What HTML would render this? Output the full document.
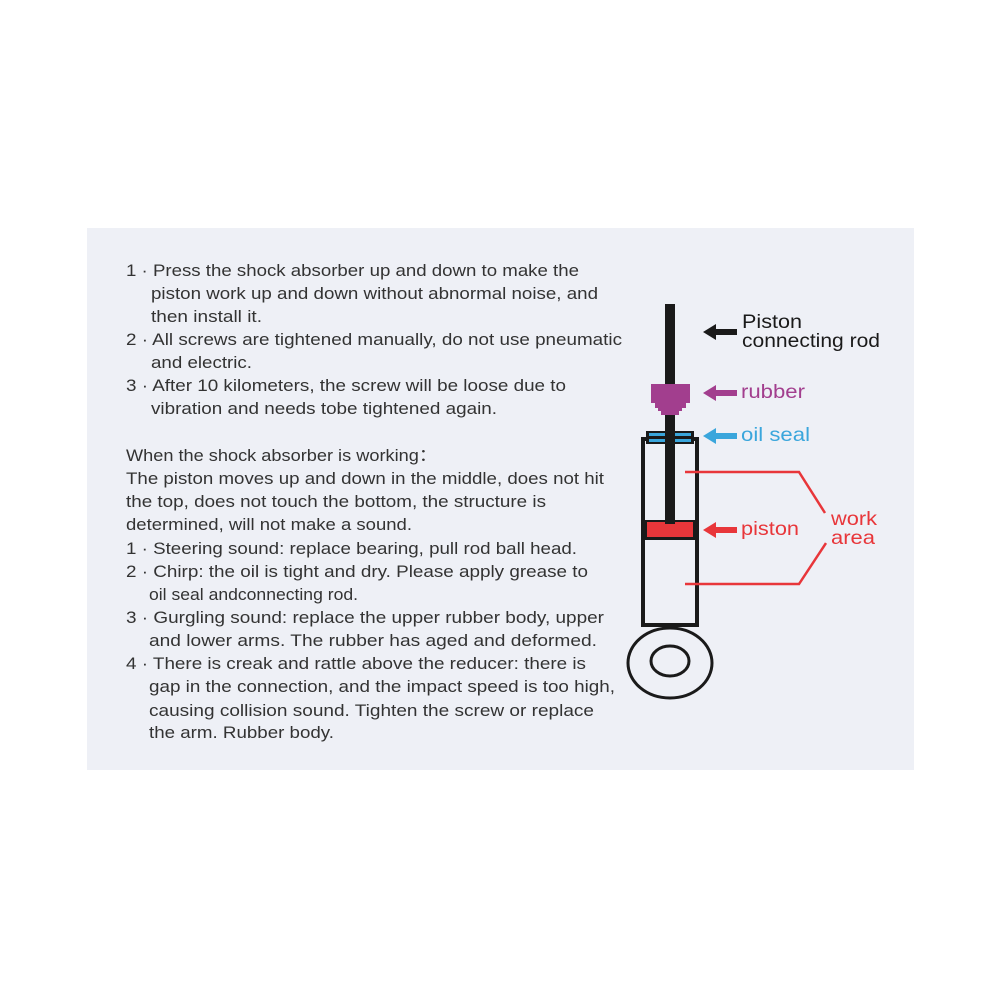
<!DOCTYPE html>
<html><head><meta charset="utf-8"><style>
html,body{margin:0;padding:0;background:#fff;}
svg{display:block}
text{font-family:"Liberation Sans",sans-serif;}
</style></head><body>
<svg width="1000" height="1000" viewBox="0 0 1000 1000" xmlns="http://www.w3.org/2000/svg">
<rect x="0" y="0" width="1000" height="1000" fill="#ffffff"/>
<rect x="87" y="228" width="827" height="542" fill="#eef0f6"/>
<g font-size="17" fill="#333333">
<text x="126" y="276" textLength="453" lengthAdjust="spacingAndGlyphs">1 · Press the shock absorber up and down to make the</text>
<text x="151" y="299" textLength="447" lengthAdjust="spacingAndGlyphs">piston work up and down without abnormal noise, and</text>
<text x="151" y="322" textLength="111" lengthAdjust="spacingAndGlyphs">then install it.</text>
<text x="126" y="345" textLength="496" lengthAdjust="spacingAndGlyphs">2 · All screws are tightened manually, do not use pneumatic</text>
<text x="151" y="368" textLength="101" lengthAdjust="spacingAndGlyphs">and electric.</text>
<text x="126" y="391" textLength="440" lengthAdjust="spacingAndGlyphs">3 · After 10 kilometers, the screw will be loose due to</text>
<text x="151" y="414" textLength="346" lengthAdjust="spacingAndGlyphs">vibration and needs tobe tightened again.</text>
<text x="126" y="461" textLength="311" lengthAdjust="spacingAndGlyphs">When the shock absorber is working：</text>
<text x="126" y="484" textLength="478" lengthAdjust="spacingAndGlyphs">The piston moves up and down in the middle, does not hit</text>
<text x="126" y="507" textLength="420" lengthAdjust="spacingAndGlyphs">the top, does not touch the bottom, the structure is</text>
<text x="126" y="530" textLength="286" lengthAdjust="spacingAndGlyphs">determined, will not make a sound.</text>
<text x="126" y="554" textLength="451" lengthAdjust="spacingAndGlyphs">1 · Steering sound: replace bearing, pull rod ball head.</text>
<text x="126" y="577" textLength="462" lengthAdjust="spacingAndGlyphs">2 · Chirp: the oil is tight and dry. Please apply grease to</text>
<text x="149" y="600" textLength="209" lengthAdjust="spacingAndGlyphs">oil seal andconnecting rod.</text>
<text x="126" y="623" textLength="478" lengthAdjust="spacingAndGlyphs">3 · Gurgling sound: replace the upper rubber body, upper</text>
<text x="149" y="646" textLength="448" lengthAdjust="spacingAndGlyphs">and lower arms. The rubber has aged and deformed.</text>
<text x="126" y="669" textLength="460" lengthAdjust="spacingAndGlyphs">4 · There is creak and rattle above the reducer: there is</text>
<text x="149" y="692" textLength="466" lengthAdjust="spacingAndGlyphs">gap in the connection, and the impact speed is too high,</text>
<text x="149" y="716" textLength="445" lengthAdjust="spacingAndGlyphs">causing collision sound. Tighten the screw or replace</text>
<text x="149" y="738" textLength="185" lengthAdjust="spacingAndGlyphs">the arm. Rubber body.</text>
</g>
<rect x="643" y="439" width="54" height="186" fill="none" stroke="#1a1a1a" stroke-width="4"/>
<rect x="643" y="520" width="54" height="20" fill="#1a1a1a"/>
<rect x="647" y="522" width="46" height="15" fill="#e8363a"/>
<rect x="665" y="304" width="10" height="220" fill="#1a1a1a"/>
<rect x="646" y="431" width="48" height="13" fill="#1a1a1a"/>
<rect x="649" y="433" width="42" height="3" fill="#3aa6dc"/>
<rect x="649" y="439" width="42" height="3" fill="#3aa6dc"/>
<rect x="665" y="430" width="10" height="15" fill="#1a1a1a"/>
<polygon points="651,384 690,384 690,403 686,403 686,408 682,408 682,411 679,411 679,415 661,415 661,411 658,411 658,408 655,408 655,403 651,403" fill="#a23e8e"/>
<ellipse cx="670" cy="663" rx="42" ry="35" fill="none" stroke="#1a1a1a" stroke-width="3"/>
<ellipse cx="670" cy="661" rx="19" ry="15" fill="none" stroke="#1a1a1a" stroke-width="3"/>
<polyline points="685,472 799,472 825,513" fill="none" stroke="#e8363a" stroke-width="2.5"/>
<polyline points="685,584 799,584 826,543" fill="none" stroke="#e8363a" stroke-width="2.5"/>
<g>
<polygon points="703,332 716,324 716,329 737,329 737,335 716,335 716,340" fill="#1a1a1a"/>
<polygon points="703,393 716,385 716,390 737,390 737,396 716,396 716,401" fill="#a23e8e"/>
<polygon points="703,436 716,428 716,433 737,433 737,439 716,439 716,444" fill="#3aa6dc"/>
<polygon points="703,530 716,522 716,527 737,527 737,533 716,533 716,538" fill="#e8363a"/>
</g>
<g font-size="19.5">
<text x="742" y="328" fill="#1a1a1a" textLength="60" lengthAdjust="spacingAndGlyphs">Piston</text>
<text x="742" y="347" fill="#1a1a1a" textLength="138" lengthAdjust="spacingAndGlyphs">connecting rod</text>
<text x="741" y="398" fill="#a23e8e" textLength="64" lengthAdjust="spacingAndGlyphs">rubber</text>
<text x="741" y="441" fill="#3aa6dc" textLength="69" lengthAdjust="spacingAndGlyphs">oil seal</text>
<text x="741" y="535" fill="#e8363a" textLength="58" lengthAdjust="spacingAndGlyphs">piston</text>
<text x="831" y="525" fill="#e8363a" textLength="46" lengthAdjust="spacingAndGlyphs">work</text>
<text x="831" y="544" fill="#e8363a" textLength="44" lengthAdjust="spacingAndGlyphs">area</text>
</g>
</svg>
</body></html>
